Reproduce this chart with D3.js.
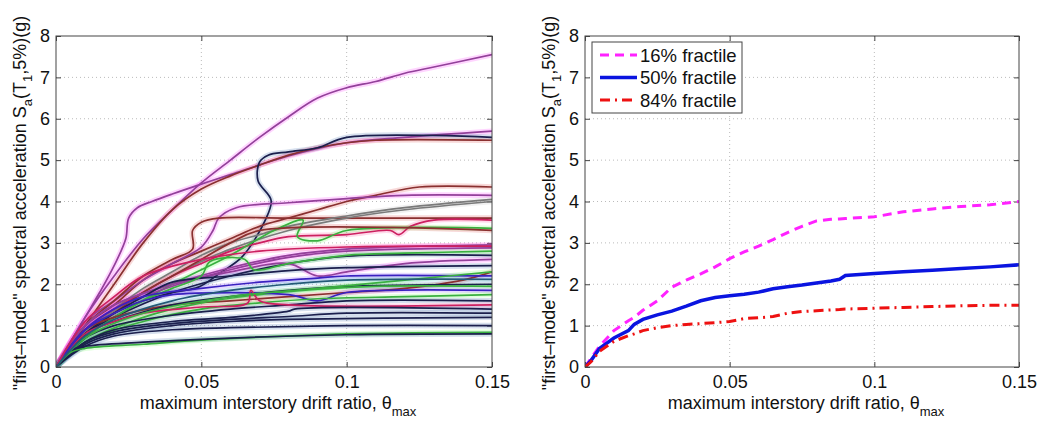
<!DOCTYPE html>
<html>
<head>
<meta charset="utf-8">
<script src="https://cdn.jsdelivr.net/npm/d3@7"></script>
<style>
  body { margin: 0; background: #fff; }
  text { font-family: "Liberation Sans", Arial, sans-serif; fill: #111; }
</style>
</head>
<body>
<svg width="1040" height="428"></svg>
<script>
// ---- data: tick values ----
const xTicks = [0, 0.05, 0.1, 0.15];
const yTicks = [0, 1, 2, 3, 4, 5, 6, 7, 8];

// ---- data: single-record IDA curves (drift, Sa) ----
const idaCurves = [
  [[0,0],[0.005,0.6],[0.01,1.2],[0.02,2.2],[0.03,3.1],[0.04,3.8],[0.05,4.45],[0.06,5.0],[0.07,5.55],[0.08,6.05],[0.09,6.5],[0.1,6.75],[0.11,6.9],[0.12,7.1],[0.13,7.25],[0.15,7.55]],
  [[0,0],[0.005,0.6],[0.01,1.2],[0.015,1.8],[0.02,2.45],[0.024,3.1],[0.025,3.6],[0.028,3.85],[0.033,4.0],[0.04,4.18],[0.05,4.42],[0.06,4.65],[0.08,5.1],[0.1,5.42],[0.12,5.55],[0.15,5.7]],
  [[0,0],[0.01,1.0],[0.02,2.0],[0.03,3.0],[0.04,3.8],[0.05,4.3],[0.06,4.62],[0.07,4.88],[0.08,5.12],[0.09,5.3],[0.1,5.42],[0.11,5.48],[0.15,5.48]],
  [[0,0],[0.01,0.9],[0.02,1.3],[0.028,1.55],[0.04,1.8],[0.049,1.93],[0.057,2.3],[0.064,2.66],[0.072,3.55],[0.074,4.03],[0.0695,4.5],[0.07,4.95],[0.073,5.12],[0.08,5.2],[0.09,5.3],[0.1,5.55],[0.15,5.55]],
  [[0,0],[0.01,1.0],[0.02,1.5],[0.03,2.1],[0.04,2.5],[0.05,2.8],[0.06,3.1],[0.07,3.4],[0.08,3.6],[0.09,3.8],[0.1,4.0],[0.11,4.15],[0.125,4.35],[0.15,4.35]],
  [[0,0],[0.01,1.1],[0.02,1.6],[0.03,2.1],[0.04,2.5],[0.05,2.9],[0.054,3.3],[0.056,3.6],[0.062,3.85],[0.08,3.97],[0.1,4.07],[0.12,4.15],[0.15,4.15]],
  [[0,0],[0.01,1.0],[0.02,1.6],[0.03,2.2],[0.04,2.6],[0.047,2.85],[0.047,3.3],[0.05,3.5],[0.056,3.6],[0.08,3.6],[0.15,3.6]],
  [[0,0],[0.01,0.9],[0.02,1.4],[0.03,1.9],[0.04,2.3],[0.05,2.7],[0.06,3.0],[0.07,3.2],[0.08,3.4],[0.1,3.65],[0.12,3.85],[0.15,4.05]],
  [[0,0],[0.01,0.85],[0.02,1.35],[0.03,1.8],[0.04,2.2],[0.05,2.55],[0.06,2.85],[0.08,3.3],[0.1,3.6],[0.12,3.8],[0.15,4.0]],
  [[0,0],[0.01,0.9],[0.02,1.4],[0.03,1.8],[0.04,2.2],[0.05,2.5],[0.06,2.8],[0.07,3.0],[0.08,3.15],[0.1,3.2],[0.115,3.3],[0.118,3.2],[0.122,3.4],[0.13,3.55],[0.15,3.55]],
  [[0,0],[0.01,0.7],[0.02,1.2],[0.04,2.0],[0.06,2.7],[0.075,3.3],[0.085,3.55],[0.083,3.15],[0.09,3.05],[0.1,3.3],[0.15,3.35]],
  [[0,0],[0.01,0.8],[0.02,1.3],[0.03,1.8],[0.04,2.2],[0.05,2.6],[0.06,3.0],[0.07,3.3],[0.15,3.3]],
  [[0,0],[0.01,1.0],[0.02,1.5],[0.04,2.0],[0.06,2.4],[0.08,2.7],[0.1,2.85],[0.15,2.95]],
  [[0,0],[0.01,0.9],[0.02,1.4],[0.04,1.95],[0.06,2.35],[0.08,2.65],[0.1,2.8],[0.15,2.88]],
  [[0,0],[0.01,0.8],[0.02,1.2],[0.04,1.8],[0.06,2.2],[0.08,2.5],[0.1,2.68],[0.15,2.7]],
  [[0,0],[0.01,1.0],[0.02,1.5],[0.04,2.0],[0.06,2.3],[0.08,2.5],[0.09,2.2],[0.1,2.3],[0.12,2.5],[0.15,2.6]],
  [[0,0],[0.01,0.8],[0.02,1.3],[0.03,1.7],[0.04,2.05],[0.06,2.2],[0.08,2.33],[0.1,2.4],[0.15,2.45]],
  [[0,0],[0.01,0.7],[0.02,1.2],[0.03,1.6],[0.04,1.9],[0.05,2.2],[0.053,2.55],[0.065,2.6],[0.068,2.35],[0.08,2.5],[0.1,2.7],[0.12,2.75],[0.15,2.8]],
  [[0,0],[0.01,0.9],[0.02,1.2],[0.04,1.5],[0.06,1.6],[0.08,1.7],[0.1,1.8],[0.12,1.9],[0.14,2.1],[0.15,2.3]],
  [[0,0],[0.01,0.8],[0.02,1.1],[0.04,1.5],[0.06,1.7],[0.08,1.85],[0.1,1.95],[0.15,2.0]],
  [[0,0],[0.01,0.6],[0.03,1.2],[0.05,1.55],[0.07,1.75],[0.09,1.88],[0.11,1.95],[0.15,1.95]],
  [[0,0],[0.01,0.9],[0.02,1.3],[0.03,1.6],[0.04,1.75],[0.08,1.75],[0.09,1.6],[0.1,1.8],[0.15,1.85]],
  [[0,0],[0.01,0.6],[0.03,1.1],[0.05,1.4],[0.07,1.55],[0.09,1.65],[0.12,1.7],[0.15,1.75]],
  [[0,0],[0.01,0.7],[0.02,1.0],[0.04,1.25],[0.06,1.4],[0.08,1.5],[0.1,1.6],[0.15,1.6]],
  [[0,0],[0.01,0.8],[0.02,1.1],[0.03,1.3],[0.05,1.45],[0.066,1.55],[0.067,1.85],[0.07,1.6],[0.08,1.5],[0.15,1.5]],
  [[0,0],[0.01,0.6],[0.02,0.9],[0.04,1.1],[0.06,1.2],[0.08,1.35],[0.082,1.4],[0.15,1.4]],
  [[0,0],[0.01,0.6],[0.02,0.85],[0.04,1.05],[0.06,1.15],[0.08,1.22],[0.1,1.3],[0.15,1.3]],
  [[0,0],[0.01,0.55],[0.02,0.8],[0.04,1.0],[0.06,1.1],[0.08,1.15],[0.15,1.2]],
  [[0,0],[0.01,0.5],[0.02,0.75],[0.04,0.9],[0.06,0.95],[0.1,1.0],[0.15,1.0]],
  [[0,0],[0.005,0.35],[0.01,0.45],[0.03,0.55],[0.05,0.65],[0.08,0.75],[0.1,0.8],[0.15,0.84]],
  [[0,0],[0.005,0.4],[0.01,0.5],[0.03,0.6],[0.06,0.7],[0.1,0.78],[0.15,0.8]],
  [[0,0],[0.01,0.9],[0.02,1.4],[0.03,1.7],[0.05,1.9],[0.07,2.05],[0.09,2.15],[0.1,2.2],[0.15,2.2]],
  [[0,0],[0.01,0.7],[0.03,1.3],[0.06,1.7],[0.09,1.9],[0.12,2.1],[0.15,2.3]],
  [[0,0],[0.01,1.1],[0.02,1.7],[0.03,2.2],[0.05,2.6],[0.07,2.8],[0.1,2.9],[0.15,2.92]],
  [[0,0],[0.01,0.75],[0.02,1.15],[0.04,1.6],[0.06,1.85],[0.08,2.0],[0.1,2.1],[0.15,2.12]]
];

// ---- data: fractile curves (right panel) ----
const fracDrift = [0,0.002,0.005,0.01,0.015,0.017,0.02,0.025,0.03,0.035,0.04,0.045,0.05,0.055,0.06,0.065,0.07,0.075,0.08,0.085,0.088,0.09,0.1,0.11,0.12,0.13,0.14,0.15];
const frac16 = [0,0.2,0.5,0.88,1.12,1.2,1.37,1.6,1.93,2.1,2.25,2.42,2.62,2.78,2.92,3.08,3.25,3.4,3.53,3.57,3.58,3.59,3.63,3.75,3.82,3.88,3.92,4.0];
const frac50 = [0,0.15,0.45,0.7,0.88,1.03,1.15,1.26,1.35,1.47,1.6,1.68,1.72,1.76,1.81,1.89,1.94,1.98,2.03,2.08,2.12,2.21,2.26,2.3,2.34,2.38,2.42,2.47];
const frac84 = [0,0.12,0.38,0.62,0.76,0.8,0.88,0.95,1.0,1.03,1.05,1.07,1.1,1.17,1.19,1.22,1.3,1.34,1.36,1.38,1.39,1.4,1.42,1.44,1.46,1.48,1.49,1.49];
const fracNames = ["16% fractile", "50% fractile", "84% fractile"];

// ---- styles ----
const palette = [
  {core: "#93409a", halo: "#ff40ff"}, // purple
  {core: "#1b1f4d", halo: "#4a70b0"}, // navy
  {core: "#8a3030", halo: "#e05050"}, // dark red
  {core: "#3ab040", halo: "#70ff60"}, // green
  {core: "#7a7a7a", halo: "#c0c0c0"}, // gray
  {core: "#3a22c0", halo: "#8a50ff"}, // blue
  {core: "#cc2060", halo: "#ff50a0"}, // red-magenta
  {core: "#245a78", halo: "#40b0d0"}  // teal
];
const curveStyle = [0,0,2,1,2,0,2,4,4,6,3,2,0,0,1,0,1,3,2,1,3,5,3,1,6,1,1,1,1,3,1,5,3,6,7];

const svg = d3.select("svg");
const fracStyles = [
  {color: "#ff22ff", width: 3, dash: "9,6"},
  {color: "#0a14e0", width: 3.5, dash: null},
  {color: "#ee1111", width: 3, dash: "10,5,2,5"}
];
const FS = 18;

function panel(x0, x1) {
  const top = 36, bottom = 367;
  const x = d3.scaleLinear().domain([0, 0.15]).range([x0, x1]);
  const y = d3.scaleLinear().domain([0, 8]).range([bottom, top]);
  const g = svg.append("g");

  // grid
  g.append("g").selectAll("line").data(xTicks.slice(1, -1)).join("line")
    .attr("x1", d => x(d)).attr("x2", d => x(d)).attr("y1", top).attr("y2", bottom)
    .attr("stroke", "#bbb").attr("stroke-dasharray", "1,3");
  g.append("g").selectAll("line").data(yTicks.slice(1, -1)).join("line")
    .attr("x1", x0).attr("x2", x1).attr("y1", d => y(d)).attr("y2", d => y(d))
    .attr("stroke", "#bbb").attr("stroke-dasharray", "1,3");

  // axes (ticks inward, matlab style)
  g.append("g").attr("transform", `translate(0,${bottom})`)
    .call(d3.axisBottom(x).tickValues(xTicks).tickSize(-5).tickPadding(8).tickFormat(d => d === 0 ? "0" : String(d)))
    .call(a => a.select(".domain").remove());
  g.append("g").attr("transform", `translate(${x0},0)`)
    .call(d3.axisLeft(y).tickValues(yTicks).tickSize(-5).tickPadding(6))
    .call(a => a.select(".domain").remove());
  g.append("g").attr("transform", `translate(${x1},0)`)
    .call(d3.axisRight(y).tickValues(yTicks).tickSize(-5).tickFormat(""))
    .call(a => a.select(".domain").remove());
  g.append("g").attr("transform", `translate(0,${top})`)
    .call(d3.axisTop(x).tickValues(xTicks).tickSize(-5).tickFormat(""))
    .call(a => a.select(".domain").remove());
  g.selectAll(".tick line").attr("stroke", "#444");
  g.selectAll(".tick text").attr("font-size", FS).attr("font-family", "Liberation Sans, Arial, sans-serif").attr("fill", "#111");

  // labels
  const xl = g.append("text").attr("x", (x0 + x1) / 2 + 4).attr("y", 409)
    .attr("text-anchor", "middle").attr("font-size", FS);
  xl.append("tspan").text("maximum interstory drift ratio, \u03b8");
  xl.append("tspan").attr("font-size", 13).attr("dy", 7).text("max");

  const yl = g.append("text")
    .attr("transform", `translate(${x0 - 30},203) rotate(-90)`)
    .attr("text-anchor", "middle").attr("font-size", FS);
  yl.append("tspan").text("\"first\u2013mode\" spectral acceleration S");
  yl.append("tspan").attr("font-size", 13).attr("dy", 6).text("a");
  yl.append("tspan").attr("dy", -6).text("(T");
  yl.append("tspan").attr("font-size", 13).attr("dy", 6).text("1");
  yl.append("tspan").attr("dy", -6).text(",5%)(g)");

  const clipId = "clip" + x0;
  svg.append("clipPath").attr("id", clipId).append("rect")
    .attr("x", x0).attr("y", top - 2).attr("width", x1 - x0).attr("height", bottom - top + 2);
  const plot = g.append("g").attr("clip-path", `url(#${clipId})`);
  return {g, plot, x, y, x0, x1, top, bottom};
}

// left panel: IDA curves, each drawn with a soft colour halo under a thin core
const L = panel(56, 492);
const lineL = d3.line().x(d => L.x(d[0])).y(d => L.y(d[1])).curve(d3.curveCatmullRom.alpha(0.5));
L.plot.selectAll(".halo").data(idaCurves).join("path").attr("class", "halo")
  .attr("d", lineL).attr("fill", "none")
  .attr("stroke", (d, i) => palette[curveStyle[i]].halo).attr("stroke-width", 5.5).attr("stroke-opacity", 0.22);
L.plot.selectAll(".core").data(idaCurves).join("path").attr("class", "core")
  .attr("d", lineL).attr("fill", "none")
  .attr("stroke", (d, i) => palette[curveStyle[i]].core).attr("stroke-width", 1.7);

// right panel: fractiles
const R = panel(585, 1019);
const fracSeries = [frac16, frac50, frac84].map(s => s.map((v, i) => [fracDrift[i], v]));
const lineR = d3.line().x(d => R.x(d[0])).y(d => R.y(d[1]));
R.plot.selectAll(".frac").data(fracSeries).join("path").attr("class", "frac")
  .attr("d", lineR).attr("fill", "none")
  .attr("stroke", (d, i) => fracStyles[i].color)
  .attr("stroke-width", (d, i) => fracStyles[i].width)
  .attr("stroke-dasharray", (d, i) => fracStyles[i].dash);

// frames on top
[L, R].forEach(p => {
  p.g.append("rect").attr("x", p.x0).attr("y", p.top).attr("width", p.x1 - p.x0).attr("height", p.bottom - p.top)
    .attr("fill", "none").attr("stroke", "#444").attr("stroke-width", 1);
});

// legend
const leg = R.g.append("g").attr("transform", "translate(592,42)");
leg.append("rect").attr("width", 150).attr("height", 71).attr("fill", "#fff").attr("stroke", "#444");
fracNames.forEach((name, i) => {
  const yy = 13 + i * 22.5;
  leg.append("line").attr("x1", 8).attr("x2", 45).attr("y1", yy).attr("y2", yy)
    .attr("stroke", fracStyles[i].color).attr("stroke-width", fracStyles[i].width)
    .attr("stroke-dasharray", fracStyles[i].dash);
  leg.append("text").attr("x", 48).attr("y", yy + 6.5).attr("font-size", 18.5).text(name);
});
</script>
</body>
</html>
